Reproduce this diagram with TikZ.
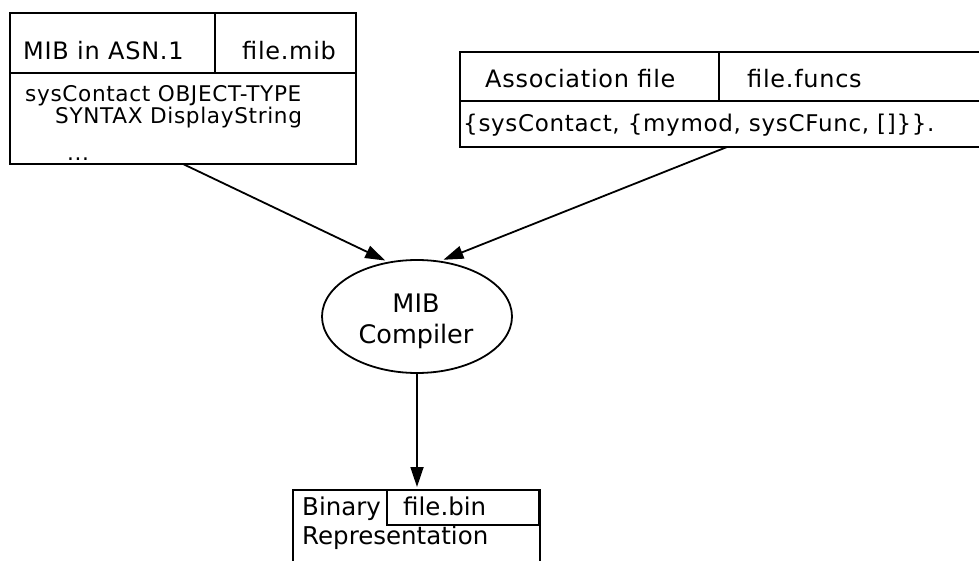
\documentclass[tikz,border=0pt]{standalone}
\usepackage{fontspec}
\setmainfont{DejaVu Sans}
\newfontfamily\boxfont[LetterSpace=3]{DejaVu Sans}
\usetikzlibrary{arrows.meta,shapes}

\tikzset{
  cell/.style={draw, line width=1.8pt, anchor=north west, inner sep=0pt, outer sep=0pt},
  txt/.style={anchor=base west, inner sep=0pt},
  mid/.style={anchor=base, inner sep=0pt},
  hdr/.style={font=\boxfont\fontsize{24}{28}\selectfont},
  body/.style={font=\boxfont\fontsize{21.6}{22}\selectfont},
  big/.style={font=\fontsize{25.5}{30}\selectfont},
  bin/.style={font=\fontsize{24.5}{30}\selectfont},
  arr/.style={-{Triangle[length=20pt,width=13pt]}, line width=1.8pt}
}

\begin{document}
\begin{tikzpicture}[x=1pt,y=-1pt]
\useasboundingbox (0,0) rectangle (979,561);
\clip (0,0) rectangle (979,561);

\node[cell, minimum width=205pt, minimum height=60pt](mibname) at (10,13){};
\node[cell, minimum width=141pt, minimum height=60pt](mibfile) at (215,13){};
\node[cell, minimum width=346pt, minimum height=91pt](mibbody) at (10,73){};
\node[txt, hdr](mibtitle) at (23,60){MIB in ASN.1};
\node[txt, hdr](mibfname) at (242,60){file.mib};
\node[txt, body](mibline1) at (25,102){sysContact OBJECT-TYPE};
\node[txt, body](mibline2) at (55,124){SYNTAX DisplayString};
\node[txt, body](mibline3) at (67,161){...};

\node[cell, minimum width=259pt, minimum height=49pt](assocname) at (460,52){};
\node[cell, minimum width=275pt, minimum height=49pt](assocfile) at (719,52){};
\node[cell, minimum width=534pt, minimum height=46pt](assocbody) at (460,101){};
\node[txt, hdr](assoctitle) at (485,88){Association file};
\node[txt, hdr](assocfname) at (747,88){file.funcs};
\node[txt, font=\boxfont\fontsize{23}{26}\selectfont](assocline) at (463,132){\{sysContact, \{mymod, sysCFunc, []\}\}.};

\node[draw, ellipse, line width=1.8pt, minimum width=190pt, minimum height=113pt,
  inner sep=0pt](compiler) at (417,316.5){};
\node[mid, big](compname1) at (416,312){MIB};
\node[mid, big](compname2) at (416,343){Compiler};

\node[cell, minimum width=247pt, minimum height=100pt](binbox) at (293,490){};
\node[cell, minimum width=152pt, minimum height=35pt](binfile) at (387,490){};
\node[txt, bin](binname) at (302,515){Binary};
\node[txt, bin](binfname) at (403,515){file.bin};
\node[txt, bin](binrep) at (302,544){Representation};

\coordinate (mibout) at (183,164);
\coordinate (assocout) at (727,147);

\draw[arr, shorten >=3pt] (mibout) -- (compiler.118);
\draw[arr, shorten >=3pt] (assocout) -- (compiler.67);
\draw[arr, shorten >=3pt] (compiler.south) -- (compiler.south |- binbox.north);

\end{tikzpicture}
\end{document}
